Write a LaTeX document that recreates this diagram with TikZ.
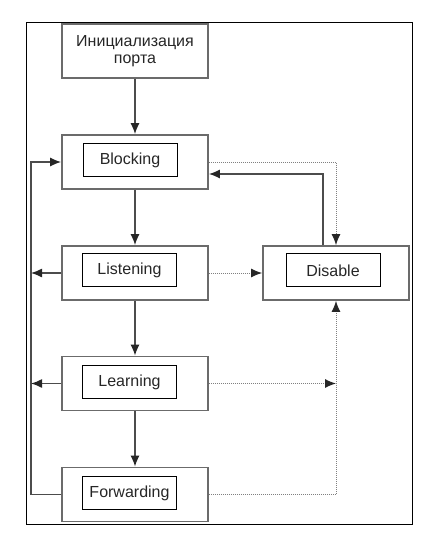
\documentclass[tikz,border=0pt]{standalone}
\usepackage{fontspec}
\setmainfont{Liberation Sans}
\usetikzlibrary{arrows.meta}
\begin{document}
\begin{tikzpicture}[x=1pt,y=-1pt,
 outerbox/.style={draw=black!58, line width=1.8pt, minimum width=146pt, minimum height=54pt, inner sep=0pt},
 innerbox/.style={draw=black, line width=0.9pt, minimum width=94pt, minimum height=33pt, inner sep=0pt, font=\fontsize{16}{17}\selectfont, text=black!85},
 arr/.style={draw=black!70, line width=1.3pt, -{Latex[length=11pt,width=9pt,color=black!85]}},
 dotarr/.style={draw=black!50, line width=1pt, dash pattern=on 1pt off 1pt, -{Latex[length=11pt,width=9pt,color=black!85]}},
 dotline/.style={draw=black!50, line width=1pt, dash pattern=on 1pt off 1pt}]
\useasboundingbox (0,0) rectangle (438,552);
\draw[black, line width=1pt] (26,22) rectangle (412,524);
\node[outerbox, align=center, font=\fontsize{16}{17}\selectfont, text=black!85] (init) at (135,51) {Инициализация\\порта};
\node[outerbox] (blk) at (135,162) {};
\node[innerbox] (blkt) at (130,160.3) {Blocking};
\node[outerbox] (lis) at (135,273) {};
\node[innerbox] (list) at (129.5,270.3) {Listening};
\node[outerbox] (dis) at (336,273) {};
\node[innerbox] (dist) at (333,270.3) {Disable};
\node[outerbox] (lrn) at (135,383.5) {};
\node[innerbox] (lrnt) at (129.5,382.3) {Learning};
\node[outerbox] (fwd) at (135,494.5) {};
\node[innerbox] (fwdt) at (129.5,493.3) {Forwarding};
\coordinate (bus) at (31,0);
% vertical chain
\draw[arr] (init) -- (blk);
\draw[arr] (blk) -- (lis);
\draw[arr] (lis) -- (lrn);
\draw[arr] (lrn) -- (fwd);
% left bus
\draw[arr] (fwd.west) -- (fwd.west -| bus) |- (blk.west);
\draw[arr] (lis.west) -- (lis.west -| bus);
\draw[arr] (lrn.west) -- (lrn.west -| bus);
% right side
\draw[dotarr] (blk.east) -| (dis.north);
\draw[arr] ([xshift=-13pt]dis.north) |- ([yshift=-12pt]blk.east);
\draw[dotarr] (lis.east) -- (dis.west);
\draw[dotarr] (lrn.east) -- (lrn.east -| dis.south);
\draw[dotarr] (fwd.east) -| (dis.south);
\end{tikzpicture}
\end{document}
